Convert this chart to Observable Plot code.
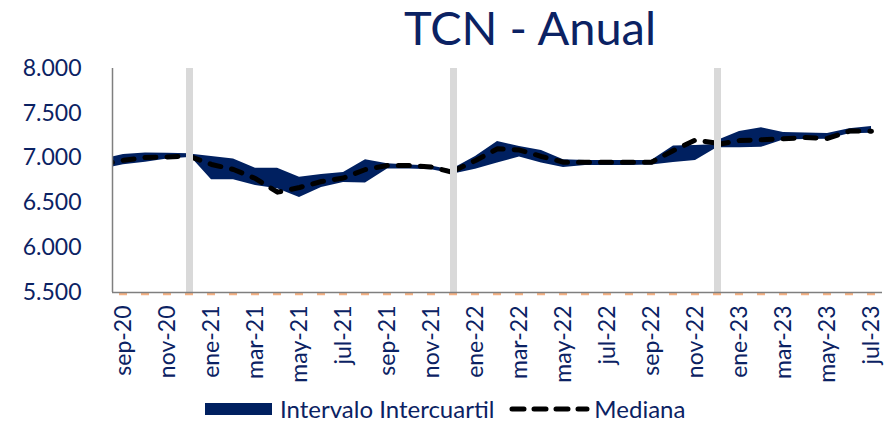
<!DOCTYPE html>
<html>
<head>
<meta charset="utf-8">
<script src="https://cdn.jsdelivr.net/npm/d3@7"></script>
<script src="https://cdn.jsdelivr.net/npm/@observablehq/plot@0.6"></script>
<style>
  html, body { margin: 0; padding: 0; background: white; }
  #wrap { position: relative; width: 887px; height: 424px; overflow: hidden; font-family: Lato, "Open Sans", sans-serif; color: #0b2263; }
  #title { position: absolute; top: 4px; left: 530px; transform: translateX(-50%); font-size: 47px; line-height: 1; white-space: nowrap; color: #0b2263; }
  #chart { position: absolute; top: 50px; left: 0; }
  #legend { position: absolute; top: 397px; left: 205px; display: flex; align-items: center; font-size: 24px; line-height: 1; white-space: nowrap; }
  #legend .sw { width: 67px; height: 12px; background: #002060; margin-right: 8px; }
  #legend .gap { width: 14px; }
  #legend svg { margin-right: 4px; }
</style>
</head>
<body>
<div id="wrap">
  <div id="title">TCN - Anual</div>
  <div id="chart"></div>
  <div id="legend">
    <div class="sw"></div><span>Intervalo Intercuartil</span><div class="gap"></div>
    <svg width="82" height="12"><line x1="4" y1="6" x2="79" y2="6" stroke="black" stroke-width="5" stroke-dasharray="12,10" stroke-linecap="round"></line></svg><span>Mediana</span>
  </div>
</div>
<script>
// All months on the axis (ago-20 only partly visible at the left edge)
const monthsAll = ["ago-20","sep-20","oct-20","nov-20","dic-20","ene-21","feb-21","mar-21","abr-21","may-21","jun-21","jul-21","ago-21","sep-21","oct-21","nov-21","dic-21","ene-22","feb-22","mar-22","abr-22","may-22","jun-22","jul-22","ago-22","sep-22","oct-22","nov-22","dic-22","ene-23","feb-23","mar-23","abr-23","may-23","jun-23","jul-23"];
const xTickLabels = ["sep-20","nov-20","ene-21","mar-21","may-21","jul-21","sep-21","nov-21","ene-22","mar-22","may-22","jul-22","sep-22","nov-22","ene-23","mar-23","may-23","jul-23"];
const yTicks = [5500, 6000, 6500, 7000, 7500, 8000];
const yearBreaks = ["dic-20","dic-21","dic-22"];

// Segment 1 (2020 horizon)
const seg1Months = ["ago-20","sep-20","oct-20","nov-20","dic-20"];
const seg1Q1  = [6875, 6925, 6955, 6990, 7007];
const seg1Q3  = [6985, 7040, 7057, 7055, 7048];
const seg1Med = [6930, 6975, 7007, 7012, 7024];

// Segment 2 (2021 horizon)
const seg2Months = ["dic-20","ene-21","feb-21","mar-21","abr-21","may-21","jun-21","jul-21","ago-21","sep-21","oct-21","nov-21","dic-21"];
const seg2Q1  = [7030, 6758, 6758, 6694, 6657, 6560, 6672, 6728, 6722, 6878, 6878, 6869, 6822];
const seg2Q3  = [7045, 7018, 6990, 6887, 6887, 6787, 6817, 6839, 6981, 6936, 6923, 6912, 6862];
const seg2Med = [7020, 6929, 6873, 6772, 6620, 6672, 6739, 6778, 6873, 6917, 6917, 6901, 6839];

// Segment 3 (2022 horizon)
const seg3Months = ["dic-21","ene-22","feb-22","mar-22","abr-22","may-22","jun-22","jul-22","ago-22","sep-22","oct-22","nov-22","dic-22"];
const seg3Q1  = [6822, 6875, 6945, 7012, 6945, 6895, 6917, 6917, 6917, 6923, 6951, 6973, 7118];
const seg3Q3  = [6884, 7018, 7185, 7130, 7085, 6981, 6973, 6973, 6973, 6973, 7135, 7141, 7152];
const seg3Med = [6856, 6973, 7104, 7090, 7018, 6954, 6954, 6954, 6954, 6954, 7085, 7202, 7166];

// Segment 4 (2023 horizon)
const seg4Months = ["dic-22","ene-23","feb-23","mar-23","abr-23","may-23","jun-23","jul-23"];
const seg4Q1  = [7115, 7115, 7121, 7202, 7208, 7210, 7271, 7278];
const seg4Q3  = [7196, 7297, 7338, 7286, 7280, 7275, 7327, 7353];
const seg4Med = [7152, 7196, 7204, 7215, 7230, 7219, 7302, 7300];

const idx = m => monthsAll.indexOf(m);
const segments = [
  [seg1Months, seg1Q1, seg1Q3, seg1Med],
  [seg2Months, seg2Q1, seg2Q3, seg2Med],
  [seg3Months, seg3Q1, seg3Q3, seg3Med],
  [seg4Months, seg4Q1, seg4Q3, seg4Med]
];
const rows = segments.flatMap(([ms, q1, q3, med], s) =>
  ms.map((m, i) => ({x: idx(m), q1: q1[i], q3: q3[i], med: med[i], seg: s})));

const xDomain = [idx("sep-20") - 0.5, idx("jul-23") + 0.5];
const yDomain = [yTicks[0], yTicks[yTicks.length - 1]];
const fmt = d3.formatLocale({decimal: ",", thousands: ".", grouping: [3]}).format(",");

const chart = Plot.plot({
  width: 887,
  height: 345,
  marginLeft: 112,
  marginRight: 5,
  marginTop: 18,
  marginBottom: 103,
  x: {domain: xDomain, label: null},
  y: {domain: yDomain, label: null},
  style: {fontFamily: "Lato, 'Open Sans', sans-serif", fontSize: "23px", color: "#0b2263", background: "white", overflow: "visible"},
  marks: [
    Plot.ruleY([yDomain[0]], {stroke: "#f4b183", strokeWidth: 2.5, strokeDasharray: "8,14", strokeDashoffset: 15, dy: 1.5}),
    Plot.areaY(rows, {x: "x", y1: "q1", y2: "q3", z: "seg", fill: "#002060", clip: true}),
    Plot.line(rows, {x: "x", y: "med", z: "seg", stroke: "black", strokeWidth: 5, strokeDasharray: "11,11", strokeLinecap: "round", clip: true}),
    Plot.ruleX(yearBreaks.map(idx), {y1: yDomain[0], y2: yDomain[1], stroke: "#d9d9d9", strokeWidth: 7}),
    Plot.ruleX([xDomain[0]], {stroke: "#7f7f7f", strokeWidth: 1.5}),
    Plot.ruleY([yDomain[0]], {stroke: "#7f7f7f", strokeWidth: 1.5}),
    Plot.axisY({ticks: yTicks, tickFormat: fmt, tickSize: 0, tickPadding: 31, fontSize: 23}),
    Plot.axisX({ticks: xTickLabels.map(idx), tickFormat: i => monthsAll[i], tickSize: 0, tickRotate: -90, tickPadding: 13, fontSize: 23})
  ]
});
document.getElementById("chart").appendChild(chart);
</script>
</body>
</html>
